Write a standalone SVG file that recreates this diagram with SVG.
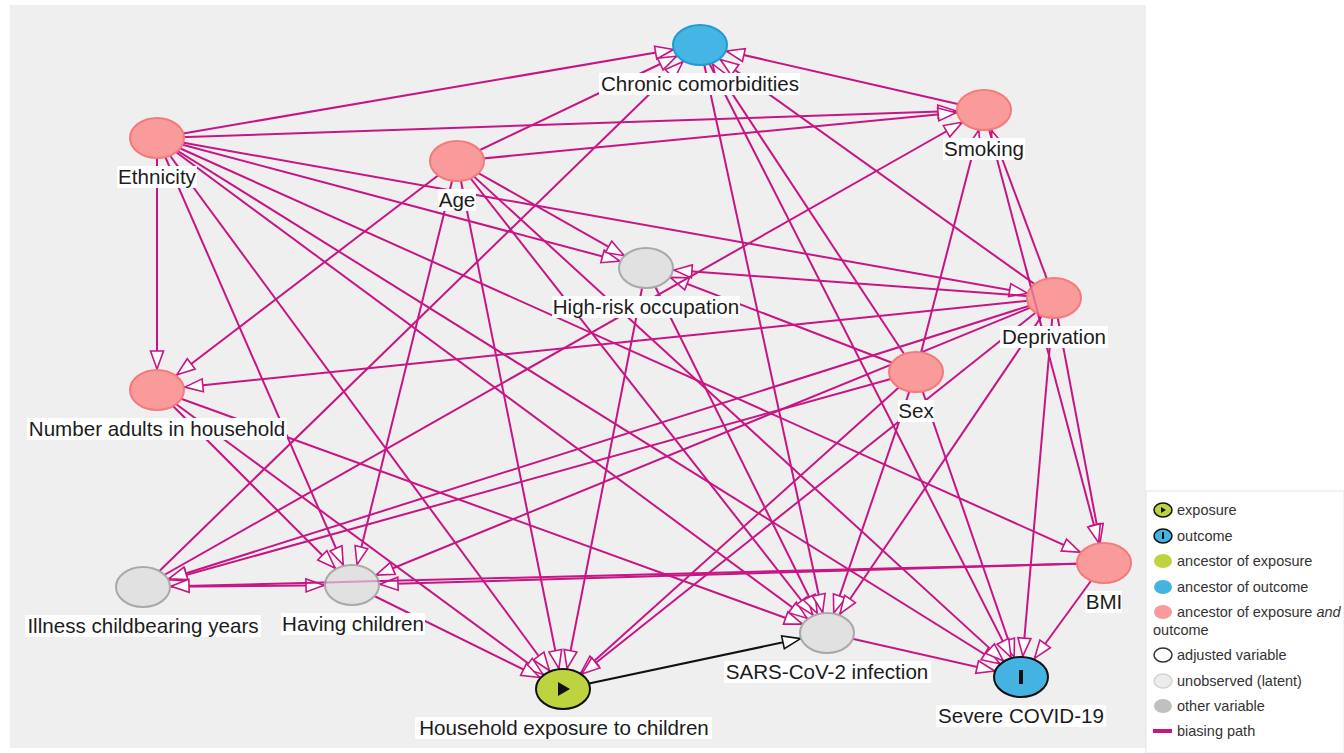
<svg xmlns="http://www.w3.org/2000/svg" width="1344" height="753" viewBox="0 0 1344 753">
<style>
.e{stroke:#c71585;stroke-width:2;fill:none}
.k{stroke:#111;stroke-width:2;fill:none}
.ov{stroke:#c71585;stroke-width:2;fill:none;opacity:0.35}
.ah{fill:#fff;stroke:#c71585;stroke-width:1.6;stroke-linejoin:miter}
.ahk{fill:#fff;stroke:#111;stroke-width:1.6}
.pink{fill:#f99b9b;stroke:#f47b7b;stroke-width:2}
.blue{fill:#45b6e4;stroke:#1f9bd8;stroke-width:2}
.lat{fill:#e1e1e1;stroke:#a9a9a9;stroke-width:2}
.expo{fill:#bfd341;stroke:#111;stroke-width:2}
.outc{fill:#45b3e2;stroke:#111;stroke-width:2}
.box{fill:#fff}
.lbl{font-family:"Liberation Sans",Arial,sans-serif;font-size:20.6px;fill:#1c1c1c;text-anchor:middle}
.lg{font-family:"Liberation Sans",Arial,sans-serif;font-size:14.5px;fill:#333}
</style>
<defs>
<marker id="m21" overflow="visible" orient="auto" markerUnits="userSpaceOnUse" markerWidth="1" markerHeight="1"><path class="ah" d="M-21,0 L-39,-6.5 L-39,6.5 Z"/></marker>
<marker id="m22" overflow="visible" orient="auto" markerUnits="userSpaceOnUse" markerWidth="1" markerHeight="1"><path class="ah" d="M-22,0 L-40,-6.5 L-40,6.5 Z"/></marker>
<marker id="m23" overflow="visible" orient="auto" markerUnits="userSpaceOnUse" markerWidth="1" markerHeight="1"><path class="ah" d="M-23,0 L-41,-6.5 L-41,6.5 Z"/></marker>
<marker id="m24" overflow="visible" orient="auto" markerUnits="userSpaceOnUse" markerWidth="1" markerHeight="1"><path class="ah" d="M-24,0 L-42,-6.5 L-42,6.5 Z"/></marker>
<marker id="m25" overflow="visible" orient="auto" markerUnits="userSpaceOnUse" markerWidth="1" markerHeight="1"><path class="ah" d="M-25,0 L-43,-6.5 L-43,6.5 Z"/></marker>
<marker id="m26" overflow="visible" orient="auto" markerUnits="userSpaceOnUse" markerWidth="1" markerHeight="1"><path class="ah" d="M-26,0 L-44,-6.5 L-44,6.5 Z"/></marker>
<marker id="m27" overflow="visible" orient="auto" markerUnits="userSpaceOnUse" markerWidth="1" markerHeight="1"><path class="ah" d="M-27,0 L-45,-6.5 L-45,6.5 Z"/></marker>
<marker id="m28" overflow="visible" orient="auto" markerUnits="userSpaceOnUse" markerWidth="1" markerHeight="1"><path class="ah" d="M-28,0 L-46,-6.5 L-46,6.5 Z"/></marker>
<marker id="k27" overflow="visible" orient="auto" markerUnits="userSpaceOnUse" markerWidth="1" markerHeight="1"><path class="ahk" d="M-27,0 L-45,-6.5 L-45,6.5 Z"/></marker>
</defs>
<rect x="0" y="0" width="1344" height="753" fill="#fff"/>
<rect x="10" y="5" width="1136" height="743" fill="#efefef"/>
<g id="connectors">
<line class="e" x1="157" y1="138" x2="700" y2="45" marker-end="url(#m27)"/>
<line class="e" x1="157" y1="138" x2="984" y2="110" marker-end="url(#m28)"/>
<line class="e" x1="157" y1="138" x2="157" y2="390" marker-end="url(#m21)"/>
<line class="e" x1="157" y1="138" x2="352" y2="585" marker-end="url(#m22)"/>
<line class="e" x1="157" y1="138" x2="563" y2="689" marker-end="url(#m23)"/>
<line class="e" x1="157" y1="138" x2="827" y2="633" marker-end="url(#m25)"/>
<line class="e" x1="157" y1="138" x2="1021" y2="677" marker-end="url(#m25)"/>
<line class="e" x1="157" y1="138" x2="1104" y2="563" marker-end="url(#m26)"/>
<line class="e" x1="157" y1="138" x2="646" y2="268" marker-end="url(#m27)"/>
<line class="e" x1="157" y1="138" x2="1054" y2="298" marker-end="url(#m27)"/>
<line class="e" x1="457" y1="161" x2="700" y2="45" marker-end="url(#m26)"/>
<line class="e" x1="457" y1="161" x2="984" y2="110" marker-end="url(#m28)"/>
<line class="e" x1="457" y1="161" x2="157" y2="390" marker-end="url(#m25)"/>
<line class="e" x1="457" y1="161" x2="352" y2="585" marker-end="url(#m21)"/>
<line class="e" x1="457" y1="161" x2="563" y2="689" marker-end="url(#m21)"/>
<line class="e" x1="457" y1="161" x2="646" y2="268" marker-end="url(#m25)"/>
<line class="e" x1="457" y1="161" x2="827" y2="633" marker-end="url(#m23)"/>
<line class="e" x1="457" y1="161" x2="1021" y2="677" marker-end="url(#m24)"/>
<line class="e" x1="916" y1="372" x2="984" y2="110" marker-end="url(#m21)"/>
<line class="e" x1="916" y1="372" x2="646" y2="268" marker-end="url(#m26)"/>
<line class="e" x1="916" y1="372" x2="700" y2="45" marker-end="url(#m23)"/>
<line class="e" x1="916" y1="372" x2="563" y2="689" marker-end="url(#m24)"/>
<line class="e" x1="916" y1="372" x2="827" y2="633" marker-end="url(#m21)"/>
<line class="e" x1="916" y1="372" x2="1021" y2="677" marker-end="url(#m21)"/>
<line class="e" x1="916" y1="372" x2="143" y2="587" marker-end="url(#m27)"/>
<line class="e" x1="1054" y1="298" x2="984" y2="110" marker-end="url(#m22)"/>
<line class="e" x1="1054" y1="298" x2="700" y2="45" marker-end="url(#m25)"/>
<line class="e" x1="1054" y1="298" x2="646" y2="268" marker-end="url(#m28)"/>
<line class="e" x1="1054" y1="298" x2="157" y2="390" marker-end="url(#m28)"/>
<line class="e" x1="1054" y1="298" x2="143" y2="587" marker-end="url(#m27)"/>
<line class="e" x1="1054" y1="298" x2="352" y2="585" marker-end="url(#m26)"/>
<line class="e" x1="1054" y1="298" x2="563" y2="689" marker-end="url(#m24)"/>
<line class="e" x1="1054" y1="298" x2="827" y2="633" marker-end="url(#m23)"/>
<line class="e" x1="1054" y1="298" x2="1021" y2="677" marker-end="url(#m21)"/>
<line class="e" x1="1054" y1="298" x2="1104" y2="563" marker-end="url(#m21)"/>
<line class="e" x1="984" y1="110" x2="700" y2="45" marker-end="url(#m27)"/>
<line class="e" x1="984" y1="110" x2="1104" y2="563" marker-end="url(#m21)"/>
<line class="e" x1="143" y1="587" x2="700" y2="45" marker-end="url(#m24)"/>
<line class="e" x1="143" y1="587" x2="984" y2="110" marker-end="url(#m25)"/>
<line class="e" x1="143" y1="587" x2="352" y2="585" marker-end="url(#m28)"/>
<line class="e" x1="1104" y1="563" x2="1021" y2="677" marker-end="url(#m23)"/>
<line class="e" x1="1104" y1="563" x2="352" y2="585" marker-end="url(#m28)"/>
<line class="e" x1="1104" y1="563" x2="143" y2="587" marker-end="url(#m28)"/>
<line class="e" x1="157" y1="390" x2="352" y2="585" marker-end="url(#m24)"/>
<line class="e" x1="157" y1="390" x2="563" y2="689" marker-end="url(#m25)"/>
<line class="e" x1="157" y1="390" x2="827" y2="633" marker-end="url(#m26)"/>
<line class="e" x1="646" y1="268" x2="563" y2="689" marker-end="url(#m21)"/>
<line class="e" x1="646" y1="268" x2="827" y2="633" marker-end="url(#m22)"/>
<line class="e" x1="700" y1="45" x2="827" y2="633" marker-end="url(#m21)"/>
<line class="e" x1="700" y1="45" x2="1021" y2="677" marker-end="url(#m22)"/>
<line class="e" x1="352" y1="585" x2="563" y2="689" marker-end="url(#m26)"/>
<line class="k" x1="563" y1="689" x2="827" y2="633" marker-end="url(#k27)"/>
<line class="e" x1="827" y1="633" x2="1021" y2="677" marker-end="url(#m27)"/>
</g>
<g id="node-cc"><ellipse class="blue" cx="700" cy="45" rx="27" ry="20"/><rect class="box" x="599" y="73" width="201" height="22"/><text class="lbl" x="700" y="91">Chronic comorbidities</text></g>
<g id="node-ethnicity"><ellipse class="pink" cx="157" cy="138" rx="27" ry="20"/><rect class="box" x="117" y="166" width="80" height="22"/><text class="lbl" x="157" y="184">Ethnicity</text></g>
<g id="node-age"><ellipse class="pink" cx="457" cy="161" rx="27" ry="20"/><rect class="box" x="438" y="189" width="38" height="22"/><text class="lbl" x="457" y="207">Age</text></g>
<g id="node-smoking"><ellipse class="pink" cx="984" cy="110" rx="27" ry="20"/><rect class="box" x="943" y="138" width="82" height="22"/><text class="lbl" x="984" y="156">Smoking</text></g>
<g id="node-occupation"><ellipse class="lat" cx="646" cy="268" rx="27" ry="20"/><rect class="box" x="552" y="296" width="188" height="22"/><text class="lbl" x="646" y="314">High-risk occupation</text></g>
<g id="node-deprivation"><ellipse class="pink" cx="1054" cy="298" rx="27" ry="20"/><line class="ov" x1="1026" y1="268" x2="1042" y2="328"/><rect class="box" x="1000" y="326" width="108" height="22"/><text class="lbl" x="1054" y="344">Deprivation</text></g>
<g id="node-sex"><ellipse class="pink" cx="916" cy="372" rx="27" ry="20"/><rect class="box" x="898" y="400" width="36" height="22"/><text class="lbl" x="916" y="418">Sex</text></g>
<g id="node-adults"><ellipse class="pink" cx="157" cy="390" rx="27" ry="20"/><rect class="box" x="27" y="418" width="260" height="22"/><text class="lbl" x="157" y="436">Number adults in household</text></g>
<g id="node-illness"><ellipse class="lat" cx="143" cy="587" rx="27" ry="20"/><rect class="box" x="25" y="615" width="236" height="22"/><text class="lbl" x="143" y="633">Illness childbearing years</text></g>
<g id="node-children"><ellipse class="lat" cx="352" cy="585" rx="27" ry="20"/><line class="ov" x1="325" y1="582.5" x2="379" y2="581.1"/><rect class="box" x="281" y="613" width="144" height="22"/><text class="lbl" x="353" y="631">Having children</text></g>
<g id="node-bmi"><ellipse class="pink" cx="1104" cy="563" rx="27" ry="20"/><rect class="box" x="1085" y="591" width="37" height="22"/><text class="lbl" x="1104" y="609">BMI</text></g>
<g id="node-sars"><ellipse class="lat" cx="827" cy="633" rx="27" ry="20"/><rect class="box" x="724" y="661" width="207" height="22"/><text class="lbl" x="827" y="679">SARS-CoV-2 infection</text></g>
<g id="node-exposure"><ellipse class="expo" cx="563" cy="689" rx="27" ry="20"/><polygon points="558,682 558,696 570,689" fill="#111"/><rect class="box" x="415" y="717" width="297" height="22"/><text class="lbl" x="564" y="735">Household exposure to children</text></g>
<g id="node-severe"><ellipse class="outc" cx="1021" cy="677" rx="27" ry="20"/><rect x="1019" y="670" width="4" height="14" fill="#111"/><rect class="box" x="936" y="705" width="170" height="22"/><text class="lbl" x="1021" y="723">Severe COVID-19</text></g>
<g id="legend">
<rect x="1146" y="491" width="198" height="262" fill="#fff" stroke="#e4e4ee" stroke-width="1"/>
<ellipse cx="1163" cy="510" rx="9" ry="7" fill="#bfd341" stroke="#111" stroke-width="1.5"/><polygon points="1161,507 1161,513 1166,510" fill="#111"/><text class="lg" x="1177" y="515">exposure</text>
<ellipse cx="1163" cy="536" rx="9" ry="7" fill="#45b3e2" stroke="#111" stroke-width="1.5"/><rect x="1162" y="532" width="2" height="7" fill="#111"/><text class="lg" x="1177" y="541">outcome</text>
<ellipse cx="1163" cy="561" rx="9" ry="7" fill="#bfd341"/><text class="lg" x="1177" y="566">ancestor of exposure</text>
<ellipse cx="1163" cy="587" rx="9" ry="7" fill="#45b3e2"/><text class="lg" x="1177" y="592">ancestor of outcome</text>
<ellipse cx="1163" cy="612" rx="9" ry="7" fill="#f99b9b"/><text class="lg" x="1177" y="617">ancestor of exposure <tspan font-style="italic">and</tspan></text><text class="lg" x="1153" y="635">outcome</text>
<ellipse cx="1163" cy="655" rx="9" ry="7" fill="#fff" stroke="#333" stroke-width="1.5"/><text class="lg" x="1177" y="660">adjusted variable</text>
<ellipse cx="1163" cy="681" rx="9" ry="7" fill="#ececec" stroke="#d4d4d4" stroke-width="1.5"/><text class="lg" x="1177" y="686">unobserved (latent)</text>
<ellipse cx="1163" cy="706" rx="9" ry="7" fill="#c0c0c0"/><text class="lg" x="1177" y="711">other variable</text>
<line x1="1153" y1="731" x2="1172" y2="731" stroke="#c71585" stroke-width="4"/><text class="lg" x="1177" y="736">biasing path</text>
</g>
</svg>
